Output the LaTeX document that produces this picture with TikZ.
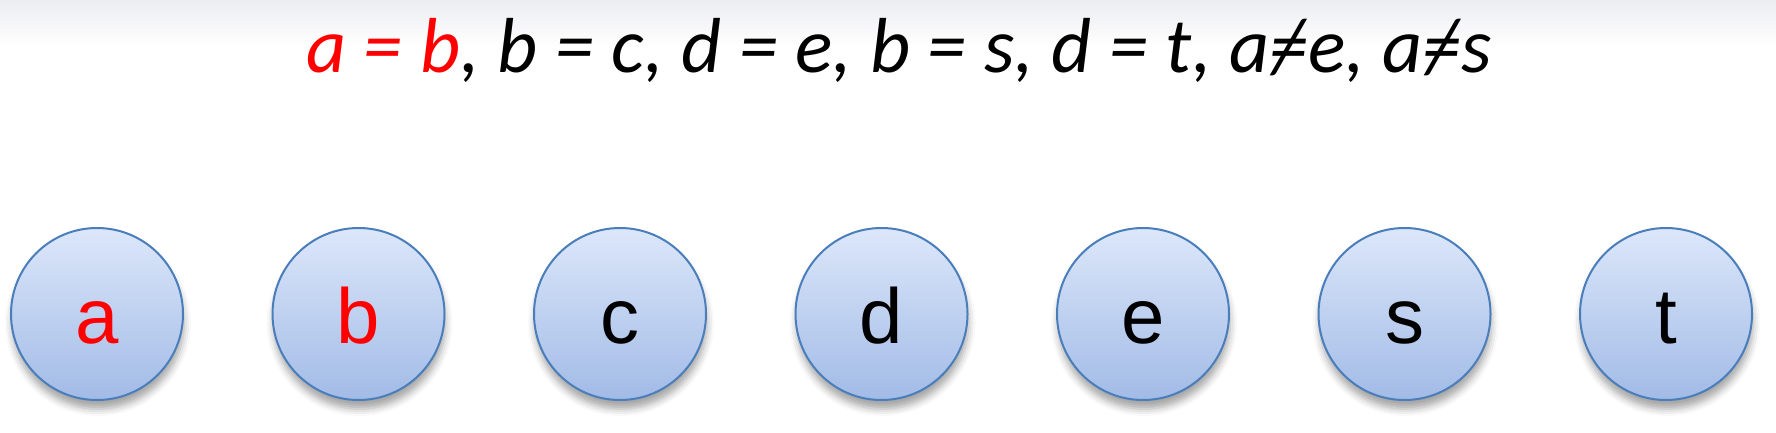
\documentclass[tikz,border=0pt]{standalone}
\usepackage{fontspec}
\setmainfont{Liberation Sans}
\newfontfamily\calfont{Carlito}
\usetikzlibrary{shadows.blur}

\definecolor{ballline}{HTML}{4A7EBB}
\definecolor{balltop}{HTML}{DCE7FA}
\definecolor{ballbottom}{HTML}{A2BBE6}
\definecolor{headgray}{HTML}{ECEDF1}

% not-equal sign built from = and /
\newcommand{\noteq}{\ooalign{=\cr\hidewidth/\hidewidth\cr}}

\begin{document}
\begin{tikzpicture}[x=1pt, y=1pt, ball/.style={circle, draw=ballline, line width=2pt, top color=balltop, bottom color=ballbottom, minimum size=172pt, inner sep=0pt, text height=58pt, text depth=0pt, font=\fontsize{78}{80}\selectfont, blur shadow={shadow xshift=1pt, shadow yshift=-9pt, shadow blur radius=7pt, shadow opacity=35}}, rules/.style={font=\calfont\itshape\fontsize{78}{80}\selectfont, anchor=base, inner sep=0pt}]

\useasboundingbox (0,0) rectangle (1776,432);
\fill[top color=headgray, bottom color=white, draw=none] (0,385) rectangle (1776,432);

\node[rules] (rules) at (899,359) {\textcolor{red}{a = b}, b = c, d = e, b = s, d = t, a\noteq e, a\noteq s};

\foreach \name/\col [count=\i from 0] in {a/red, b/red, c/black, d/black, e/black, s/black, t/black}
  \node[ball, text=\col] (\name) at (97+261.5*\i,118) {\name};

\end{tikzpicture}
\end{document}
